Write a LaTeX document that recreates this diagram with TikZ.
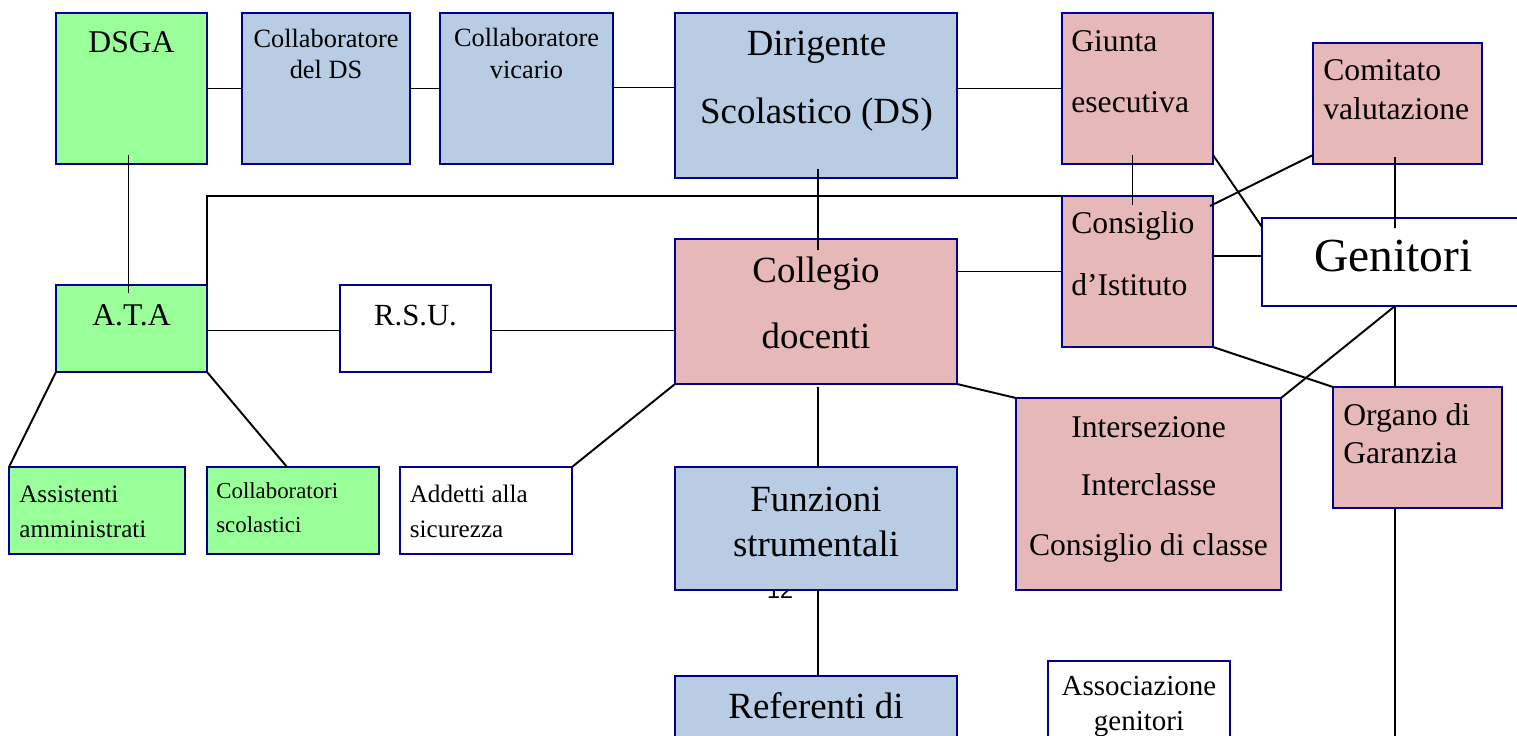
\documentclass[tikz,border=0pt]{standalone}
\usepackage{fontspec}
\setmainfont{Liberation Serif}
\newfontfamily\numfont{Liberation Sans}
\usetikzlibrary{calc}
\definecolor{boxgreen}{RGB}{153,255,153}
\definecolor{boxblue}{RGB}{184,204,228}
\definecolor{boxpink}{RGB}{230,184,183}
\definecolor{boxline}{RGB}{0,0,140}
\newcommand\fsz[1]{\fontsize{#1}{#1}\selectfont}
\newcommand\mkbox[6]{\node[#6, minimum width={(#4-#2)*0.02cm}, minimum height={(#5-#3)*0.02cm}] (#1) at ({(#2+#4)/2},{(#3+#5)/2}) {};}
\tikzset{
  orgbox/.style={draw=boxline, line width=1.3pt, inner sep=0pt, outer sep=0pt, rectangle},
  gbox/.style={orgbox, fill=boxgreen},
  bbox/.style={orgbox, fill=boxblue},
  pbox/.style={orgbox, fill=boxpink},
  wbox/.style={orgbox, fill=white},
  ctxt/.style={anchor=base, inner sep=0pt},
  ltxt/.style={anchor=base west, inner sep=0pt},
  conn/.style={draw=black, line width=1.1pt},
}
\begin{document}
\begin{tikzpicture}[x=0.02cm, y=-0.02cm]
\useasboundingbox (0,0) rectangle (1517,735);
\clip (0,0) rectangle (1517,735);
\fill[white] (0,0) rectangle (1517,735);
% page number behind the box
\node[ctxt, font=\numfont\fsz{13.3pt}] (pgnum) at (780,598) {12};
% boxes
\mkbox{dsga}{56}{13}{207}{164}{gbox}
\mkbox{cds}{242}{13}{410}{164}{bbox}
\mkbox{cvi}{440}{13}{613}{164}{bbox}
\mkbox{ds}{675}{13}{957}{178}{bbox}
\mkbox{giu}{1062}{13}{1213}{164}{pbox}
\mkbox{com}{1313}{43}{1482}{164}{pbox}
\mkbox{cons}{1062}{196}{1213}{347}{pbox}
\mkbox{gen}{1262}{218}{1525}{306}{wbox}
\mkbox{col}{675}{239}{957}{384}{pbox}
\mkbox{ata}{56}{285}{207}{372}{gbox}
\mkbox{rsu}{340}{285}{491}{372}{wbox}
\mkbox{int}{1016}{398}{1281}{590}{pbox}
\mkbox{org}{1333}{387}{1502}{508}{pbox}
\mkbox{ass}{9}{467}{185}{554}{gbox}
\mkbox{cols}{207}{467}{379}{554}{gbox}
\mkbox{add}{400}{467}{572}{554}{wbox}
\mkbox{fun}{675}{467}{957}{590}{bbox}
\mkbox{ref}{675}{676}{957}{800}{bbox}
\mkbox{asg}{1048}{661}{1230}{800}{wbox}
% coordinates
\coordinate (corner) at (207,196);
\coordinate (g1) at ($(gen.west)+(0,-6)$);
\coordinate (gs) at ($(gen.south)+(1.5,0)$);
\coordinate (gbot) at (1395,740);
% connectors
\draw[conn] (dsga.east) -- (cds.west);
\draw[conn] (cds.east) -- (cvi.west);
\draw[conn] ($(cvi.east)+(0,-1)$) -- ($(cvi.east -| ds.west)+(0,-1)$);
\draw[conn] (ds.east |- giu.west) -- (giu.west);
\draw[conn] ($(dsga.south)+(-3,-9)$) -- ($(ata.north)+(-3,8)$);
\draw[conn] (ata.north east) -- (corner) -- (cons.north west);
\draw[conn] ($(ds.south)+(2,-9)$) -- ($(col.north)+(2,11)$);
\draw[conn] (cons.west -| col.east) -- (cons.west);
\draw[conn] ($(giu.south)+(-5,-9)$) -- ($(cons.north)+(-5,9)$);
\draw[conn] ($(cons.north east)+(-3,10)$) -- ($(com.south west)+(0,-9)$);
\draw[conn] ($(giu.south east)+(0,-9)$) -- ($(gen.north west)+(0,9)$);
\draw[conn] (g1 -| cons.east) -- (g1);
\draw[conn] ($(com.south)+(-2.5,-7)$) -- ($(gen.north)+(1.5,10)$);
\draw[conn] (cons.south east) -- (org.north west);
\draw[conn] (gs) -- (int.north east);
\draw[conn] (gs) -- (gs |- org.north);
\draw[conn] (gs |- org.south) -- (gbot);
\draw[conn] ($(ata.east)+(0,2)$) -- ($(rsu.west)+(0,2)$);
\draw[conn] ($(rsu.east)+(0,2)$) -- ($(rsu.east -| col.west)+(0,2)$);
\draw[conn] (ata.south west) -- (ass.north west);
\draw[conn] (ata.south east) -- ($(cols.north)+(-6,0)$);
\draw[conn] (col.south west) -- (add.north east);
\draw[conn] (col.south east) -- (int.north west);
\draw[conn] ($(col.south)+(2,3)$) -- ($(fun.north)+(2,0)$);
\draw[conn] ($(fun.south)+(2,0)$) -- ($(ref.north)+(2,0)$);
% texts
\node[ctxt, font=\fsz{18pt}] (tdsga) at (131.5,52) {DSGA};
\node[ctxt, font=\fsz{15pt}] (tcds1) at (326,47) {Collaboratore};
\node[ctxt, font=\fsz{15pt}] (tcds2) at (326,78) {del DS};
\node[ctxt, font=\fsz{15pt}] (tcvi1) at (526.5,46) {Collaboratore};
\node[ctxt, font=\fsz{15pt}] (tcvi2) at (526.5,78) {vicario};
\node[ctxt, font=\fsz{21pt}] (tds1) at (816.5,55) {Dirigente};
\node[ctxt, font=\fsz{21pt}] (tds2) at (816.5,123) {Scolastico (DS)};
\node[ltxt, font=\fsz{18pt}] (tgiu1) at (1071,51) {Giunta};
\node[ltxt, font=\fsz{18pt}] (tgiu2) at (1071,112) {esecutiva};
\node[ltxt, font=\fsz{18pt}] (tcom1) at (1323,80) {Comitato};
\node[ltxt, font=\fsz{18pt}] (tcom2) at (1323,119) {valutazione};
\node[ltxt, font=\fsz{18pt}] (tcons1) at (1071,233) {Consiglio};
\node[ltxt, font=\fsz{18pt}] (tcons2) at (1071,295) {d’Istituto};
\node[ctxt, font=\fsz{27pt}] (tgen) at (1393.5,271) {Genitori};
\node[ctxt, font=\fsz{21pt}] (tcol1) at (816,282) {Collegio};
\node[ctxt, font=\fsz{21pt}] (tcol2) at (816,348) {docenti};
\node[ctxt, font=\fsz{18pt}] (tata) at (131.5,325) {A.T.A};
\node[ctxt, font=\fsz{17.5pt}] (trsu) at (415.5,325) {R.S.U.};
\node[ctxt, font=\fsz{18pt}] (tint1) at (1148.5,437) {Intersezione};
\node[ctxt, font=\fsz{18pt}] (tint2) at (1148.5,495) {Interclasse};
\node[ctxt, font=\fsz{18pt}] (tint3) at (1148.5,555) {Consiglio di classe};
\node[ltxt, font=\fsz{18pt}] (torg1) at (1343,425) {Organo di};
\node[ltxt, font=\fsz{18pt}] (torg2) at (1343,463) {Garanzia};
\node[ltxt, font=\fsz{14.3pt}] (tass1) at (19,502) {Assistenti};
\node[ltxt, font=\fsz{14.3pt}] (tass2) at (19,537) {amministrati};
\node[ltxt, font=\fsz{13pt}] (tcols1) at (216,498) {Collaboratori};
\node[ltxt, font=\fsz{13pt}] (tcols2) at (216,532) {scolastici};
\node[ltxt, font=\fsz{14.3pt}] (tadd1) at (409.5,502) {Addetti alla};
\node[ltxt, font=\fsz{14.3pt}] (tadd2) at (409.5,537) {sicurezza};
\node[ctxt, font=\fsz{21pt}] (tfun1) at (816,511) {Funzioni};
\node[ctxt, font=\fsz{21pt}] (tfun2) at (816,556) {strumentali};
\node[ctxt, font=\fsz{21pt}] (tref) at (816,718) {Referenti di};
\node[ctxt, font=\fsz{16.5pt}] (tasg1) at (1139,695) {Associazione};
\node[ctxt, font=\fsz{16.5pt}] (tasg2) at (1139,730) {genitori};
\end{tikzpicture}
\end{document}
